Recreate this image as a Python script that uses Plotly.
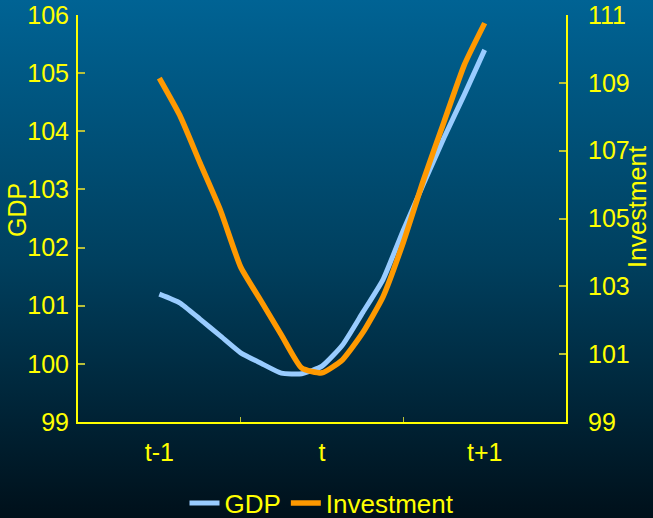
import base64
import plotly.graph_objects as go

# Period positions (eighths of a period between t-1 and t+1)
period = [-1.0, -0.875, -0.75, -0.625, -0.5, -0.375, -0.25, -0.125, 0.0,
          0.125, 0.25, 0.375, 0.5, 0.625, 0.75, 0.875, 1.0]
tick_positions = [-1, 0, 1]
tick_labels = ["t-1", "t", "t+1"]

gdp = [101.20, 101.05, 100.77, 100.48, 100.19, 100.01, 99.84, 99.83, 99.96,
       100.32, 100.88, 101.45, 102.30, 103.10, 103.89, 104.63, 105.40]
investment = [109.14, 108.05, 106.64, 105.25, 103.57, 102.57, 101.57, 100.59, 100.45,
              100.83, 101.63, 102.69, 104.30, 106.15, 107.85, 109.53, 110.76]

W, H = 653, 518
ML, MR, MT, MB = 78, 87, 15, 96
PW, PH = W - ML - MR, H - MT - MB

YELLOW = "#ffff00"
TICK = "#b8bf3a"
FONT = "Arial, Liberation Sans, sans-serif"

# vertical blue-to-black backdrop as an SVG gradient
svg = (
    f'<svg xmlns="http://www.w3.org/2000/svg" width="{W}" height="{H}" preserveAspectRatio="none">'
    '<defs><linearGradient id="g" x1="0" y1="0" x2="0" y2="1">'
    '<stop offset="0" stop-color="#006394"/>'
    '<stop offset="0.5" stop-color="#00405f"/>'
    '<stop offset="1" stop-color="#00101a"/>'
    '</linearGradient></defs>'
    f'<rect width="{W}" height="{H}" fill="url(#g)"/></svg>'
)
bg_uri = "data:image/svg+xml;base64," + base64.b64encode(svg.encode()).decode()

fig = go.Figure()
fig.add_trace(go.Scatter(x=period, y=gdp, name="GDP", mode="lines",
                         line=dict(color="#99ccff", width=5, shape="spline", smoothing=0.5),
                         yaxis="y"))
fig.add_trace(go.Scatter(x=period, y=investment, name="Investment", mode="lines",
                         line=dict(color="#ff9900", width=5.5, shape="spline", smoothing=0.5),
                         yaxis="y2"))

fig.update_layout(
    width=W, height=H,
    margin=dict(l=ML, r=MR, t=MT, b=MB, autoexpand=False),
    paper_bgcolor="rgba(0,0,0,0)",
    plot_bgcolor="rgba(0,0,0,0)",
    font=dict(family=FONT, size=25, color=YELLOW),
    showlegend=True,
    legend=dict(orientation="h", x=0.5, xanchor="center",
                y=(503 - MT - PH) / -PH, yanchor="middle",
                bgcolor="rgba(0,0,0,0)", font=dict(size=26, color=YELLOW),
                itemwidth=30, tracegroupgap=0),
    xaxis=dict(range=[-1.5, 1.5], tickmode="array", tickvals=tick_positions,
               ticktext=tick_labels, ticks="", showgrid=False, zeroline=False,
               showline=True, linecolor=YELLOW, linewidth=2,
               ticklabelstandoff=7, tickfont=dict(size=25),
               minor=dict(tickmode="array", tickvals=[-0.5, 0.5], ticks="inside",
                          ticklen=5, tickcolor=TICK, tickwidth=1, showgrid=False)),
    yaxis=dict(range=[99, 106], dtick=1, tick0=99, ticks="inside", ticklen=7,
               tickcolor=TICK, tickwidth=2, showgrid=False, zeroline=False,
               showline=True, linecolor=YELLOW, linewidth=2,
               ticklabelstandoff=2),
    yaxis2=dict(range=[99, 111], dtick=2, tick0=99, ticks="inside", ticklen=7,
                tickcolor=TICK, tickwidth=2, showgrid=False, zeroline=False,
                showline=True, linecolor=YELLOW, linewidth=2,
                overlaying="y", side="right", anchor="x",
                ticklabelstandoff=15),
    images=[dict(source=bg_uri, xref="paper", yref="paper",
                 x=-ML / PW, y=1 + MT / PH, sizex=W / PW, sizey=H / PH,
                 xanchor="left", yanchor="top", sizing="stretch", layer="below")],
    annotations=[
        dict(text="GDP", xref="paper", yref="paper", x=(17 - ML) / PW,
             y=(PH + MT - 210) / PH, textangle=-90, showarrow=False,
             font=dict(size=25, color=YELLOW), xanchor="center", yanchor="middle"),
        dict(text="Investment", xref="paper", yref="paper", x=(637 - ML) / PW,
             y=(PH + MT - 207) / PH, textangle=-90, showarrow=False,
             font=dict(size=25, color=YELLOW), xanchor="center", yanchor="middle"),
    ],
)

fig.write_html("out.html")
